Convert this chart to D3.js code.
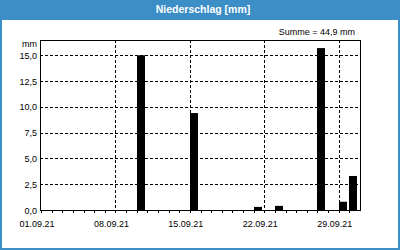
<!DOCTYPE html>
<html>
<head>
<meta charset="utf-8">
<script src="https://cdn.jsdelivr.net/npm/d3@7"></script>
<style>
body { margin: 0; }
text { font-family: "Liberation Sans", Arial, sans-serif; }
</style>
</head>
<body>
<div></div>
<script>
// daily rain, 01.09.21 - 30.09.21
var days = d3.range(1, 31);
var rain = [0, 0, 0, 0, 0, 0, 0, 0, 0, 15.0,
            0, 0, 0, 0, 9.4, 0, 0, 0, 0, 0,
            0.3, 0, 0.4, 0, 0, 0, 15.7, 0, 0.8, 3.3];
var yTicks = [0, 2.5, 5, 7.5, 10, 12.5, 15];
var weekDays = [1, 8, 15, 22, 29];

var W = 400, H = 250;
var pLeft = 40, pRight = 360, pTop = 40, pBottom = 210;
var blue = "#3c8ec6";

var svg = d3.select("div")
.append("svg")
.attr("width", W)
.attr("height", H)

// frame + title bar
svg.append("rect")
.attr("x", 1).attr("y", 1)
.attr("width", W - 2).attr("height", H - 2)
.attr("fill", "#fff")
.attr("stroke", blue)
.attr("stroke-width", 2);

svg.append("rect")
.attr("x", 0).attr("y", 0)
.attr("width", W).attr("height", 20)
.attr("fill", blue);

svg.append("text")
.attr("x", 203).attr("y", 12.5)
.attr("text-anchor", "middle")
.style("font-size", "10.5px")
.style("font-weight", "bold")
.attr("fill", "#fff")
.text("Niederschlag [mm]");

var day = function(d) { return new Date(2021, 8, d); };

var x = d3.scaleTime()
.domain([day(1), day(31)])
.range([41, pRight]);

var y = d3.scaleLinear()
.domain([0, d3.max(rain) * 1.05])
.range([pBottom, pTop]);

var fmt = d3.timeFormat("%d.%m.%y");

// grid
svg.append("g")
.selectAll("line")
.data(yTicks.slice(1))
.enter().append("line")
.attr("x1", pLeft).attr("x2", pRight)
.attr("y1", function(d) { return Math.round(y(d)) + 0.5; })
.attr("y2", function(d) { return Math.round(y(d)) + 0.5; })
.attr("stroke", "#000")
.attr("stroke-dasharray", "3,2");

svg.append("g")
.selectAll("line")
.data(weekDays.slice(1))
.enter().append("line")
.attr("x1", function(d) { return Math.round(x(day(d))) + 0.5; })
.attr("x2", function(d) { return Math.round(x(day(d))) + 0.5; })
.attr("y1", pTop).attr("y2", pBottom)
.attr("stroke", "#000")
.attr("stroke-dasharray", "3,2");

// bars
var dayW = x(day(2)) - x(day(1));
svg.append("g")
.selectAll("rect")
.data(days.filter(function(d, i) { return rain[i] > 0; }))
.enter().append("rect")
.attr("x", function(d) { return Math.round(x(day(d))); })
.attr("y", function(d) { return y(rain[d - 1]); })
.attr("width", Math.round(dayW * 0.75))
.attr("height", function(d) { return pBottom - y(rain[d - 1]); })
.attr("fill", "#000");

// plot box
svg.append("rect")
.attr("x", pLeft + 0.5).attr("y", pTop + 0.5)
.attr("width", pRight - pLeft).attr("height", pBottom - pTop)
.attr("fill", "none")
.attr("stroke", "#000");

// day ticks
svg.append("g")
.selectAll("line")
.data(days)
.enter().append("line")
.attr("x1", function(d) { return Math.round(x(day(d))) + 0.5; })
.attr("x2", function(d) { return Math.round(x(day(d))) + 0.5; })
.attr("y1", pBottom).attr("y2", pBottom + 3)
.attr("stroke", "#000");

// labels
svg.append("g")
.selectAll("text")
.data(weekDays)
.enter().append("text")
.attr("x", function(d) { return x(day(d)) - 4; })
.attr("y", 227)
.attr("text-anchor", "middle")
.style("font-size", "9px")
.text(function(d) { return fmt(day(d)); });

svg.append("g")
.selectAll("text")
.data(yTicks)
.enter().append("text")
.attr("x", 37)
.attr("y", function(d) { return y(d) + 3.5; })
.attr("text-anchor", "end")
.style("font-size", "9px")
.text(function(d) { return d3.format(".1f")(d).replace(".", ","); });

svg.append("text")
.attr("x", 37).attr("y", 47)
.attr("text-anchor", "end")
.style("font-size", "9px")
.text("mm");

svg.append("text")
.attr("x", 355).attr("y", 34.5)
.attr("text-anchor", "end")
.style("font-size", "9px")
.text("Summe = " + d3.format(".1f")(d3.sum(rain)).replace(".", ",") + " mm");
</script>
</body>
</html>
